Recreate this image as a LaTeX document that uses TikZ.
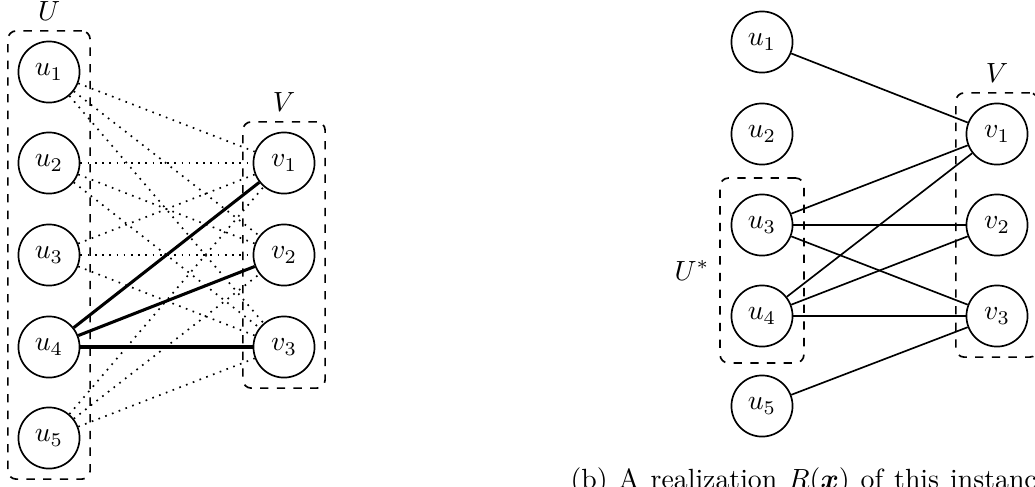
\documentclass[tikz,border=0pt]{standalone}
\usepackage{amsmath}
\usepackage{color}
\usetikzlibrary{fit}

\begin{document}
\begin{tikzpicture}[x=0.36pt, y=-0.36pt,
  vtx/.style={circle, draw, semithick, minimum size=22pt, inner sep=0pt},
  grp/.style={draw, semithick, dashed, rounded corners=3pt, inner sep=3.5pt, label distance=1pt}]
  \useasboundingbox (0,0) rectangle (1035,486);
  \foreach \i/\y in {1/72,2/163,3/255,4/347,5/438} {
    \node [vtx] (lu_\i) at (49,\y) {$u_\i$};
  }
  \foreach \i/\y in {1/163,2/255,3/347} {
    \node [vtx] (lv_\i) at (284,\y) {$v_\i$};
  }
  \foreach \i/\y in {1/42,2/134,3/225,4/316,5/406} {
    \node [vtx] (ru_\i) at (762,\y) {$u_\i$};
  }
  \foreach \i/\y in {1/134,2/225,3/316} {
    \node [vtx] (rv_\i) at (997,\y) {$v_\i$};
  }
  \draw [semithick, dotted] (lu_1) -- (lv_1);
  \draw [semithick, dotted] (lu_1) -- (lv_2);
  \draw [semithick, dotted] (lu_1) -- (lv_3);
  \draw [semithick, dotted] (lu_2) -- (lv_1);
  \draw [semithick, dotted] (lu_2) -- (lv_2);
  \draw [semithick, dotted] (lu_2) -- (lv_3);
  \draw [semithick, dotted] (lu_3) -- (lv_1);
  \draw [semithick, dotted] (lu_3) -- (lv_2);
  \draw [semithick, dotted] (lu_3) -- (lv_3);
  \draw [semithick, dotted] (lu_5) -- (lv_1);
  \draw [semithick, dotted] (lu_5) -- (lv_2);
  \draw [semithick, dotted] (lu_5) -- (lv_3);
  \draw [line width=1.1pt] (lu_4) -- (lv_1);
  \draw [line width=1.1pt] (lu_4) -- (lv_2);
  \draw [line width=1.1pt] (lu_4) -- (lv_3);
  \draw [semithick] (ru_1) -- (rv_1);
  \draw [semithick] (ru_3) -- (rv_1);
  \draw [semithick] (ru_3) -- (rv_2);
  \draw [semithick] (ru_3) -- (rv_3);
  \draw [semithick] (ru_4) -- (rv_1);
  \draw [semithick] (ru_4) -- (rv_2);
  \draw [semithick] (ru_4) -- (rv_3);
  \draw [semithick] (ru_5) -- (rv_3);
  \node [grp, fit=(lu_1)(lu_5), label=above:$U$] (lU) {};
  \node [grp, fit=(lv_1)(lv_3), label=above:$V$] (lV) {};
  \node [grp, fit=(ru_3)(ru_4), inner ysep=5.6pt, inner xsep=3.8pt, label=left:$U^*$] (rU) {};
  \node [grp, fit=(rv_1)(rv_3), label=above:$V$] (rV) {};
  \node [anchor=base west, inner sep=0pt] (cap) at (570,488) {\spaceskip=4pt (b) A realization $R(\boldsymbol{x})$ of this instance};
\end{tikzpicture}
\end{document}
